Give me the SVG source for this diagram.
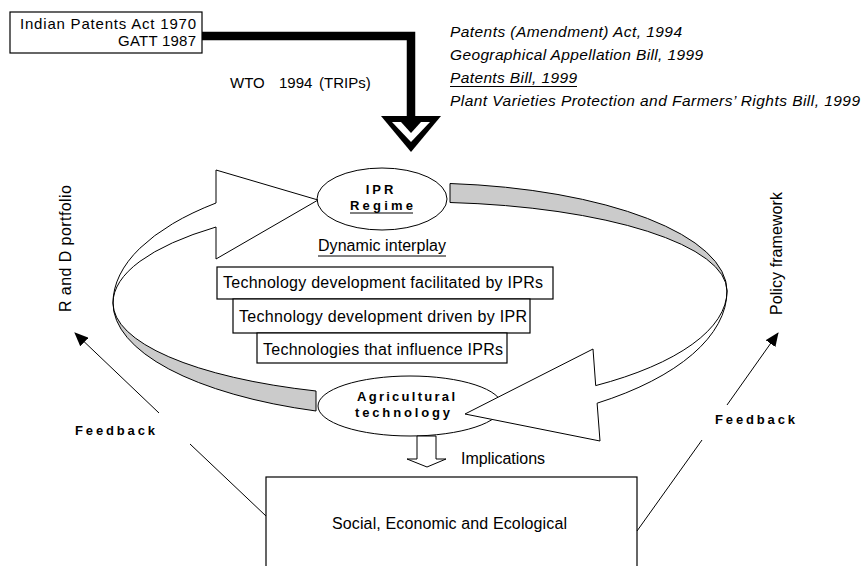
<svg xmlns="http://www.w3.org/2000/svg" width="865" height="566" viewBox="0 0 865 566">
<defs>
<style>
text{font-family:"Liberation Sans",Arial,Helvetica,sans-serif;fill:#000}
.t15{font-size:15px}
.t16{font-size:16px}
.it{font-size:15.5px;font-style:italic}
.b{font-size:13px;font-weight:bold}
.box{fill:#fff;stroke:#000;stroke-width:1.2}
.ell{fill:#fff;stroke:#000;stroke-width:1}
.gray{fill:#cbcbcb;stroke:#000;stroke-width:1;stroke-linejoin:round}
.white{fill:#fff;stroke:#000;stroke-width:1;stroke-linejoin:miter}
.ln{fill:none;stroke:#000;stroke-width:1}
</style>
<marker id="ah" markerUnits="userSpaceOnUse" markerWidth="14" markerHeight="12" viewBox="0 0 14 12" refX="13" refY="6" orient="auto">
<path d="M0,0 L14,6 L0,12 Z" fill="#000"/>
</marker>
</defs>
<rect width="865" height="566" fill="#fff"/>

<g id="acts-box">
<rect class="box" x="10" y="12" width="192" height="41"/>
<text class="t15" x="196" y="29" text-anchor="end" textLength="176" lengthAdjust="spacing">Indian Patents Act 1970</text>
<text class="t15" x="196" y="46" text-anchor="end" textLength="78" lengthAdjust="spacing">GATT 1987</text>
</g>

<g id="wto-label">
<text class="t15" x="230" y="88">WTO</text>
<text class="t15" x="279" y="88">1994</text>
<text class="t15" x="319" y="88">(TRIPs)</text>
</g>

<g id="bills-list">
<text class="it" x="450" y="37" textLength="232" lengthAdjust="spacing">Patents (Amendment) Act, 1994</text>
<text class="it" x="450" y="60" textLength="253" lengthAdjust="spacing">Geographical Appellation Bill, 1999</text>
<text class="it" x="450" y="83" textLength="127" lengthAdjust="spacing">Patents Bill, 1999</text>
<line class="ln" x1="450" y1="86.5" x2="577" y2="86.5"/>
<text class="it" x="450" y="106" textLength="410" lengthAdjust="spacing">Plant Varieties Protection and Farmers’ Rights Bill, 1999</text>
</g>

<g id="ipr-regime">
<ellipse class="ell" cx="382" cy="199" rx="65" ry="31"/>
<text class="b" x="381" y="194" text-anchor="middle" letter-spacing="3">IPR</text>
<text class="b" x="350" y="210" textLength="63" lengthAdjust="spacing">Regime</text>
<line class="ln" x1="350" y1="213" x2="413" y2="213"/>
</g>

<g id="dynamic-interplay">
<text class="t16" x="318" y="251" textLength="128" lengthAdjust="spacing">Dynamic interplay</text>
<line class="ln" x1="318" y1="256" x2="446" y2="256"/>
</g>

<g id="box-facilitated">
<rect class="box" x="217" y="267" width="336" height="32"/>
<text class="t16" x="223" y="288" textLength="320" lengthAdjust="spacing">Technology development facilitated by IPRs</text>
</g>
<g id="box-driven">
<rect class="box" x="233" y="299" width="297" height="34"/>
<text class="t16" x="239" y="322" textLength="288" lengthAdjust="spacing">Technology development driven by IPR</text>
</g>
<g id="box-influence">
<rect class="box" x="257" y="333" width="250" height="30"/>
<text class="t16" x="263" y="355" textLength="240" lengthAdjust="spacing">Technologies that influence IPRs</text>
</g>

<g id="agri-tech">
<ellipse class="ell" cx="410" cy="406" rx="92" ry="30"/>
<text class="b" x="357" y="401" textLength="98" lengthAdjust="spacing">Agricultural</text>
<text class="b" x="355" y="417" textLength="95" lengthAdjust="spacing">technology</text>
</g>

<g id="rd-portfolio">
<text class="t16" transform="translate(71,312) rotate(-90)" textLength="127" lengthAdjust="spacing">R and D portfolio</text>
</g>
<g id="policy-framework">
<text class="t16" transform="translate(782,315) rotate(-90)" textLength="123" lengthAdjust="spacing">Policy framework</text>
</g>

<g id="feedback-left">
<text class="b" x="75" y="435" textLength="80" lengthAdjust="spacing">Feedback</text>
</g>
<g id="feedback-right">
<text class="b" x="715" y="424" textLength="80" lengthAdjust="spacing">Feedback</text>
</g>

<g id="implications">
<text class="t16" x="461" y="464" textLength="84" lengthAdjust="spacing">Implications</text>
</g>

<g id="impact-box">
<rect class="box" x="266" y="477" width="371" height="120"/>
<text class="t16" x="332" y="529" textLength="235" lengthAdjust="spacing">Social, Economic and Ecological</text>
</g>

<g id="connectors">
<polyline points="202,36 411,36 411,118" fill="none" stroke="#000" stroke-width="8.5" stroke-linejoin="miter"/>
<polygon points="381,116 441,116 411,152" fill="#000"/>
<polygon points="392,122 430,122 411,142" fill="#fff"/>
<polygon points="401,122 421,122 411,133" fill="#000"/>

<path class="gray" d="M450,183.5 A307,108 0 0 1 727,291 A307,88.9 0 0 0 450,202.5 Z"/>
<path class="white" d="M727,291 A307,115.4 0 0 1 595.7,385.6 L593,349 L465,414 L600,441 L597.1,403.2 A307,137.4 0 0 0 727,291 Z"/>
<path class="gray" d="M316,411 A307,114.8 0 0 1 113,303 A307,93.5 0 0 0 316,391 Z"/>
<path class="white" d="M113,303 A307,133.8 0 0 1 216,203 L216,170 L318,200 L216,259 L216,227 A307,101.7 0 0 0 113,303 Z"/>

<polygon class="white" points="417,436 436,436 436,459 446,459 427,467 407,459 417,459"/>

<line class="ln" x1="159" y1="413" x2="75" y2="333" marker-end="url(#ah)"/>
<line class="ln" x1="190" y1="444" x2="266" y2="516"/>
<line class="ln" x1="727" y1="405" x2="778" y2="333" marker-end="url(#ah)"/>
<line class="ln" x1="702" y1="440" x2="637" y2="531"/>
</g>
</svg>
